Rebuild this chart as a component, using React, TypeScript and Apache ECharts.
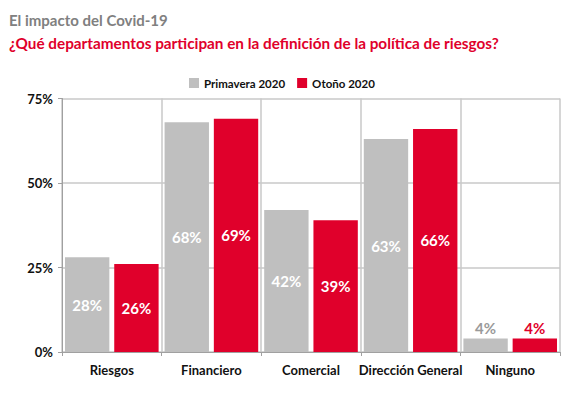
import React, { useEffect, useRef } from "react";
import * as echarts from "echarts";

const categories = ["Riesgos", "Financiero", "Comercial", "Dirección General", "Ninguno"];
const primavera = [28, 68, 42, 63, 4];
const otono = [26, 69, 39, 66, 4];
const seriesNames = ["Primavera 2020", "Otoño 2020"];
const yTicks = [0, 25, 50, 75];

const FONT = "Lato, 'Noto Sans', sans-serif";
const GRAY = "#bfbfbf";
const RED = "#e0002b";

export default function App() {
  const ref = useRef<HTMLDivElement>(null);
  useEffect(() => {
    document.body.style.margin = "0";
    const chart = echarts.init(ref.current!, null, { renderer: "svg" });
    const mk = (vals: number[], labelColor: string) =>
      vals.map((v, i) =>
        i === categories.length - 1
          ? { value: v, label: { position: "top", color: labelColor, distance: 3 } }
          : { value: v }
      );
    const barLabel = {
      show: true,
      position: "inside",
      formatter: "{c}%",
      color: "#fff",
      fontFamily: FONT,
      fontSize: 15,
      fontWeight: "bold",
    };
    chart.setOption({
      animation: false,
      backgroundColor: "#ffffff",
      textStyle: { fontFamily: FONT },
      title: [
        {
          text: "El impacto del Covid-19",
          left: 4,
          top: 7,
          textStyle: { fontFamily: FONT, fontSize: 15, fontWeight: "bold", color: "#808080" },
        },
        {
          text: "¿Qué departamentos participan en la definición de la política de riesgos?",
          left: 4,
          top: 30,
          textStyle: { fontFamily: FONT, fontSize: 15.3, fontWeight: "bold", color: RED },
        },
      ],
      legend: {
        top: 72,
        left: 184,
        itemWidth: 10,
        itemHeight: 10,
        itemGap: 12,
        icon: "rect",
        textStyle: { fontFamily: FONT, fontSize: 11.5, fontWeight: "bold", color: "#111" },
        data: seriesNames,
      },
      grid: { left: 62, right: 16, top: 98.5, bottom: 47, containLabel: false },
      xAxis: {
        type: "category",
        data: categories,
        axisLine: { lineStyle: { color: "#a0a0a0", width: 1 } },
        axisTick: { show: true, length: 4, lineStyle: { color: "#a0a0a0" } },
        axisLabel: { interval: 0, fontFamily: FONT, fontSize: 13, fontWeight: "bold", color: "#111", margin: 11 },
        splitLine: { show: true, lineStyle: { color: "#c8c8c8", width: 1.5 } },
      },
      yAxis: {
        type: "value",
        min: yTicks[0],
        max: yTicks[yTicks.length - 1],
        interval: 25,
        axisLine: { show: true, lineStyle: { color: "#a0a0a0" } },
        axisTick: { show: true, length: 4, lineStyle: { color: "#a0a0a0" } },
        axisLabel: {
          fontFamily: FONT,
          fontSize: 13,
          fontWeight: "bold",
          color: "#111",
          margin: 9,
          formatter: (v: number) => `${v}%`,
        },
        splitLine: { show: true, lineStyle: { color: "#c8c8c8", width: 1.5 } },
      },
      series: [
        {
          name: seriesNames[0],
          type: "bar",
          data: mk(primavera, "#9a9a9a"),
          itemStyle: { color: GRAY },
          barGap: "11%",
          barCategoryGap: "6%",
          label: barLabel,
        },
        {
          name: seriesNames[1],
          type: "bar",
          data: mk(otono, RED),
          itemStyle: { color: RED },
          barGap: "11%",
          barCategoryGap: "6%",
          label: barLabel,
        },
      ],
    });
    return () => chart.dispose();
  }, []);
  return <div ref={ref} style={{ position: "fixed", left: 0, top: 0, width: 576, height: 399 }} />;
}
